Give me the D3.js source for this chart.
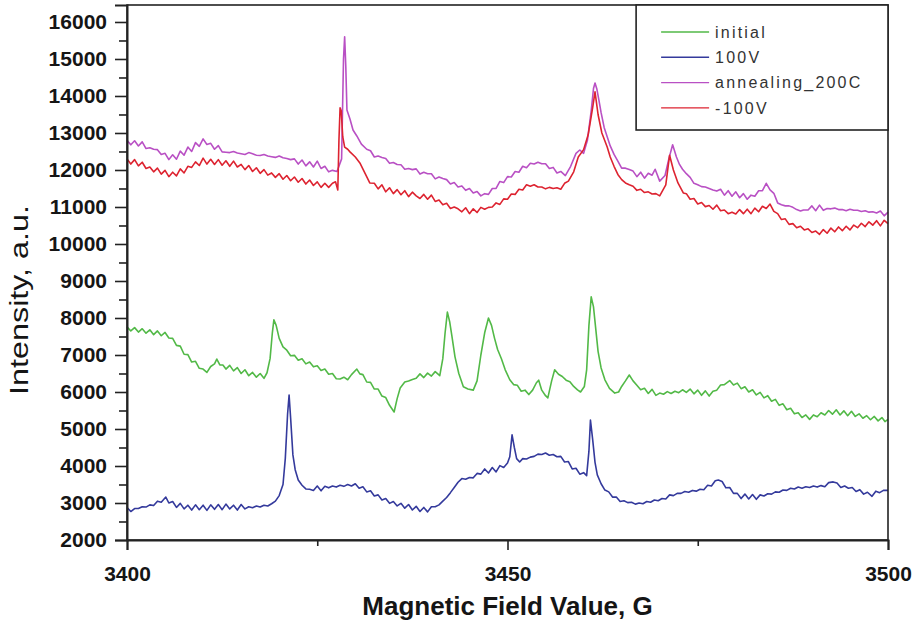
<!DOCTYPE html>
<html>
<head>
<meta charset="utf-8">
<script src="https://cdn.jsdelivr.net/npm/d3@7"></script>
<style>
  body { margin: 0; background: #fff; }
  svg text { font-family: "Liberation Sans", Arial, sans-serif; }
</style>
</head>
<body>
<svg id="chart" width="919" height="623"></svg>
<script>
// EPR spectra: intensity vs. magnetic field for four sample states
const seriesNames = ["initial", "100V", "annealing_200C", "-100V"];
const seriesColors = ["#52b947", "#343a9c", "#b950c4", "#dd2330"];
const xTicks = [3400, 3450, 3500];
const xMinorTicks = [3425, 3475];
const yTicks = [2000, 3000, 4000, 5000, 6000, 7000, 8000, 9000, 10000, 11000, 12000, 13000, 14000, 15000, 16000];
const yMinorTicks = [2500, 3500, 4500, 5500, 6500, 7500, 8500, 9500, 10500, 11500, 12500, 13500, 14500, 15500];
const xTitle = "Magnetic Field Value, G";
const yTitle = "Intensity, a.u.";

const initial = [[3400,7760],[3400.5,7650],[3401,7740],[3401.5,7620],[3402,7710],[3402.5,7590],[3403,7680],[3403.5,7550],[3404,7650],[3404.5,7520],[3405,7610],[3405.5,7460],[3406,7450],[3406.5,7260],[3407,7240],[3407.5,7020],[3408,7010],[3408.5,6810],[3409,6830],[3409.5,6640],[3410,6620],[3410.5,6530],[3411,6690],[3411.5,6760],[3411.8,6890],[3412.2,6730],[3412.6,6730],[3413,6620],[3413.5,6720],[3414,6570],[3414.5,6660],[3415,6500],[3415.5,6600],[3416,6440],[3416.5,6530],[3417,6400],[3417.5,6500],[3418,6370],[3418.4,6520],[3418.8,6900],[3419.1,7600],[3419.3,7950],[3419.6,7800],[3420,7450],[3420.5,7220],[3421,7130],[3421.5,6980],[3422,6990],[3422.5,6860],[3423,6900],[3423.5,6760],[3424,6810],[3424.5,6680],[3425,6710],[3425.5,6580],[3426,6620],[3426.5,6480],[3427,6500],[3427.5,6360],[3428,6350],[3428.5,6400],[3429,6330],[3429.5,6470],[3430.2,6620],[3430.6,6490],[3431,6470],[3431.5,6270],[3432,6260],[3432.5,6080],[3433,6080],[3433.5,5890],[3434,5850],[3434.5,5640],[3435.1,5460],[3435.5,5820],[3435.9,6110],[3436.5,6270],[3437,6300],[3437.5,6340],[3438,6370],[3438.5,6490],[3439,6390],[3439.5,6510],[3440,6430],[3440.5,6550],[3441.1,6440],[3441.5,6900],[3441.8,7600],[3442.1,8160],[3442.4,7900],[3442.7,7500],[3443.1,6950],[3443.6,6500],[3444.2,6140],[3444.8,6080],[3445.5,6050],[3446,6300],[3446.5,7000],[3447,7600],[3447.5,8000],[3447.9,7800],[3448.3,7450],[3448.7,7150],[3449.2,6900],[3449.7,6600],[3450.3,6330],[3450.8,6200],[3451.3,6180],[3451.8,6020],[3452.3,6050],[3452.8,5930],[3453.3,6050],[3453.8,6250],[3454.1,6320],[3454.5,6050],[3455,5900],[3455.3,5840],[3455.8,6300],[3456.2,6600],[3456.7,6480],[3457.2,6420],[3457.7,6320],[3458.2,6280],[3458.7,6150],[3459.2,6060],[3459.6,6000],[3460.1,6150],[3460.4,6600],[3460.7,7800],[3461,8570],[3461.3,8300],[3461.6,7700],[3461.9,7100],[3462.3,6650],[3462.8,6330],[3463.4,6100],[3464.1,5970],[3464.6,6000],[3465,6150],[3465.5,6300],[3466,6460],[3466.5,6300],[3467,6180],[3467.5,6060],[3468,6100],[3468.5,5960],[3469,6070],[3469.5,5910],[3470,5970],[3470.5,5940],[3471,6010],[3471.5,5960],[3472,6020],[3472.5,5980],[3473,6060],[3473.5,5990],[3474,6080],[3474.5,5950],[3475,6050],[3475.5,5910],[3476,6030],[3476.5,5890],[3477,6020],[3477.5,6050],[3478,6190],[3478.5,6200],[3479.2,6310],[3479.7,6190],[3480.2,6240],[3480.7,6090],[3481.2,6140],[3481.7,6000],[3482.2,6060],[3482.7,5920],[3483.2,5990],[3483.7,5840],[3484.2,5900],[3484.7,5750],[3485.2,5800],[3485.7,5640],[3486.2,5680],[3486.7,5520],[3487.2,5560],[3487.7,5410],[3488.2,5440],[3488.7,5310],[3489.2,5380],[3489.7,5260],[3490.2,5380],[3490.7,5330],[3491.2,5440],[3491.7,5380],[3492.2,5500],[3492.7,5400],[3493.2,5520],[3493.7,5380],[3494.2,5490],[3494.7,5360],[3495.2,5480],[3495.7,5340],[3496.2,5410],[3496.7,5290],[3497.2,5360],[3497.7,5250],[3498.2,5340],[3498.7,5220],[3499.2,5310],[3499.6,5200],[3500,5260]];

const v100 = [[3400,2880],[3400.5,2770],[3401,2850],[3401.5,2850],[3402,2900],[3402.5,2890],[3403,2950],[3403.5,2930],[3404,3050],[3404.5,3020],[3405.1,3160],[3405.5,3000],[3406,3040],[3406.5,2880],[3407,2990],[3407.5,2840],[3408,2940],[3408.5,2810],[3409,2950],[3409.5,2820],[3410,2940],[3410.5,2800],[3411,2950],[3411.5,2830],[3412,2960],[3412.5,2820],[3413,2970],[3413.5,2840],[3414,2940],[3414.5,2810],[3415,2960],[3415.5,2840],[3416,2900],[3416.5,2870],[3417,2920],[3417.5,2890],[3418,2940],[3418.5,2920],[3419,2980],[3419.5,3050],[3420,3200],[3420.5,3500],[3420.8,4200],[3421.1,5400],[3421.3,5920],[3421.5,5300],[3421.8,4300],[3422.1,3900],[3422.5,3620],[3423,3480],[3423.5,3380],[3424,3370],[3424.5,3340],[3425,3460],[3425.5,3330],[3426,3450],[3426.5,3410],[3427,3460],[3427.5,3430],[3428,3480],[3428.5,3450],[3429,3500],[3429.5,3460],[3430,3520],[3430.5,3400],[3431,3440],[3431.5,3300],[3432,3330],[3432.5,3190],[3433,3220],[3433.5,3080],[3434,3120],[3434.5,2990],[3435,3040],[3435.5,2920],[3436,2990],[3436.5,2860],[3437,2960],[3437.5,2810],[3438,2910],[3438.5,2770],[3439,2880],[3439.5,2760],[3440,2900],[3440.5,2900],[3441,2950],[3441.5,3050],[3442,3150],[3442.5,3280],[3443,3420],[3443.5,3560],[3444,3660],[3444.5,3640],[3445,3690],[3445.5,3680],[3446,3800],[3446.5,3780],[3447,3920],[3447.5,3810],[3448,3960],[3448.5,3840],[3449,4010],[3449.5,3960],[3450,4080],[3450.3,4250],[3450.6,4840],[3450.9,4500],[3451.2,4200],[3451.6,4110],[3452,4200],[3452.5,4190],[3453,4240],[3453.5,4260],[3454,4320],[3454.5,4310],[3455,4350],[3455.5,4290],[3456,4310],[3456.5,4250],[3457,4260],[3457.5,4110],[3458,4120],[3458.5,3920],[3459,3940],[3459.5,3780],[3460,3820],[3460.4,3740],[3460.7,4400],[3460.9,5240],[3461.2,4700],[3461.5,4100],[3461.8,3760],[3462.3,3520],[3462.8,3350],[3463.3,3300],[3463.8,3160],[3464.3,3160],[3464.8,3040],[3465.3,3060],[3465.8,3010],[3466.3,3020],[3466.8,2970],[3467.3,3000],[3467.8,2980],[3468.3,3040],[3468.8,3020],[3469.3,3080],[3469.8,3060],[3470.3,3120],[3470.8,3110],[3471.3,3220],[3471.8,3200],[3472.3,3260],[3472.8,3260],[3473.3,3310],[3473.8,3290],[3474.3,3340],[3474.8,3320],[3475.3,3370],[3475.8,3360],[3476.3,3480],[3476.8,3460],[3477.3,3600],[3477.7,3620],[3478.2,3580],[3478.7,3410],[3479.2,3420],[3479.7,3260],[3480.2,3260],[3480.7,3120],[3481.2,3240],[3481.7,3110],[3482.2,3230],[3482.7,3100],[3483.2,3220],[3483.7,3190],[3484.2,3250],[3484.7,3240],[3485.2,3300],[3485.7,3290],[3486.2,3350],[3486.7,3340],[3487.2,3400],[3487.7,3380],[3488.2,3430],[3488.7,3400],[3489.2,3440],[3489.7,3420],[3490.2,3460],[3490.7,3430],[3491.2,3470],[3491.7,3440],[3492.2,3550],[3492.8,3570],[3493.3,3540],[3493.8,3420],[3494.3,3460],[3494.8,3400],[3495.3,3420],[3495.8,3310],[3496.3,3360],[3496.8,3240],[3497.3,3290],[3497.9,3180],[3498.4,3320],[3498.9,3280],[3499.4,3340],[3500,3340]];

const annealing200C = [[3400,12800],[3400.5,12680],[3401,12790],[3401.5,12650],[3402,12760],[3402.5,12580],[3403,12600],[3403.5,12560],[3404,12550],[3404.5,12420],[3405,12450],[3405.5,12280],[3406,12410],[3406.5,12290],[3407,12510],[3407.5,12400],[3408,12620],[3408.5,12500],[3409,12740],[3409.5,12640],[3410,12840],[3410.5,12690],[3411,12720],[3411.5,12560],[3412,12660],[3412.5,12490],[3413,12480],[3413.5,12470],[3414,12500],[3414.5,12460],[3415,12440],[3415.5,12420],[3416,12470],[3416.5,12440],[3417,12400],[3417.5,12390],[3418,12420],[3418.5,12380],[3419,12360],[3419.5,12340],[3420,12380],[3420.5,12330],[3421,12310],[3421.5,12280],[3422,12300],[3422.5,12160],[3423,12270],[3423.5,12110],[3424,12220],[3424.5,12080],[3425,12240],[3425.5,12040],[3426,12100],[3426.5,11950],[3427,11990],[3427.6,11960],[3428.2,12300],[3428.45,15000],[3428.6,15600],[3428.75,14800],[3428.9,13620],[3429.3,13380],[3429.7,13080],[3430.2,12920],[3430.8,12700],[3431.5,12560],[3432,12520],[3432.5,12350],[3433,12380],[3433.5,12340],[3434,12310],[3434.5,12180],[3435,12200],[3435.5,12150],[3436,12140],[3436.5,12020],[3437,12040],[3437.5,12010],[3438,12030],[3438.5,11890],[3439,11940],[3439.5,11900],[3440,11900],[3440.5,11760],[3441,11810],[3441.5,11770],[3442,11740],[3442.5,11620],[3443,11660],[3443.5,11540],[3444,11570],[3444.5,11450],[3445,11500],[3445.5,11380],[3446,11420],[3446.5,11300],[3447,11360],[3447.5,11340],[3448,11500],[3448.5,11500],[3449,11690],[3449.5,11660],[3450,11820],[3450.5,11810],[3451,11960],[3451.5,11940],[3452,12100],[3452.5,12060],[3453,12180],[3453.5,12160],[3454,12210],[3454.5,12170],[3455,12170],[3455.5,12040],[3456,12070],[3456.5,11920],[3457,11960],[3457.6,11850],[3458.3,12100],[3459,12450],[3459.5,12540],[3460,12450],[3460.5,12800],[3461,13600],[3461.3,14200],[3461.5,14350],[3461.75,14180],[3462,13900],[3462.3,13550],[3462.7,13150],[3463.1,12900],[3463.5,12650],[3464,12420],[3464.5,12240],[3465,12050],[3465.5,12050],[3466,12010],[3466.5,11970],[3467,11820],[3467.5,11940],[3468,11780],[3468.5,11910],[3469,11860],[3469.4,12020],[3470,11700],[3470.7,11850],[3471.2,12300],[3471.7,12680],[3472.2,12350],[3472.6,12150],[3473,12020],[3473.5,11900],[3474,11800],[3474.5,11640],[3475,11600],[3475.5,11550],[3476,11540],[3476.5,11500],[3477,11460],[3477.5,11430],[3478,11480],[3478.5,11320],[3479,11440],[3479.5,11290],[3480,11410],[3480.5,11250],[3481,11360],[3481.5,11210],[3482,11320],[3482.5,11290],[3483,11440],[3483.5,11440],[3484,11640],[3484.5,11460],[3485,11370],[3485.5,11110],[3486,11060],[3486.5,11030],[3487,11030],[3487.5,10990],[3488,10930],[3488.5,10890],[3488.9,10920],[3489.5,10920],[3490,11030],[3490.5,10900],[3491,11050],[3491.5,10910],[3492,10960],[3492.5,10950],[3493,10970],[3493.5,10930],[3494,10930],[3494.5,10900],[3495,10940],[3495.5,10910],[3496,10910],[3496.5,10880],[3497,10900],[3497.5,10860],[3498,10870],[3498.5,10840],[3499,10890],[3499.5,10760],[3500,10860]];

const vMinus100 = [[3400,12300],[3400.5,12160],[3401,12280],[3401.5,12110],[3402,12210],[3402.5,12040],[3403,12080],[3403.5,11950],[3404,12050],[3404.5,11890],[3405,11990],[3405.5,11820],[3406,11940],[3406.5,11840],[3407,12030],[3407.5,11920],[3408,12100],[3408.5,12070],[3409,12220],[3409.5,12120],[3410,12320],[3410.5,12160],[3411,12290],[3411.5,12150],[3412,12280],[3412.5,12130],[3413,12250],[3413.5,12100],[3414,12240],[3414.5,12080],[3415,12150],[3415.5,12010],[3416,12120],[3416.5,11960],[3417,12060],[3417.5,11910],[3418,12010],[3418.5,11860],[3419,11920],[3419.5,11800],[3420,11900],[3420.5,11750],[3421,11850],[3421.5,11710],[3422,11810],[3422.5,11670],[3423,11770],[3423.5,11620],[3424,11730],[3424.5,11580],[3425,11680],[3425.5,11530],[3426,11640],[3426.5,11530],[3427,11640],[3427.4,11680],[3427.7,11460],[3427.85,12800],[3428,13680],[3428.15,13600],[3428.35,12900],[3428.6,12620],[3429,12560],[3429.3,12490],[3430,12350],[3430.6,12190],[3431.3,11900],[3431.9,11650],[3432.5,11640],[3433,11490],[3433.5,11600],[3434,11410],[3434.5,11520],[3435,11360],[3435.5,11470],[3436,11330],[3436.5,11440],[3437,11280],[3437.5,11400],[3438,11300],[3438.5,11230],[3439,11340],[3439.5,11210],[3440,11320],[3440.5,11150],[3441,11190],[3441.5,11060],[3442,11100],[3442.5,10960],[3443,11000],[3443.5,10950],[3444,10870],[3444.5,10980],[3445,10820],[3445.5,10950],[3446,10850],[3446.5,10990],[3447,10940],[3447.5,10990],[3448,11000],[3448.5,11110],[3449,11070],[3449.5,11220],[3450,11210],[3450.5,11350],[3451,11340],[3451.5,11480],[3452,11460],[3452.5,11600],[3453,11560],[3453.5,11600],[3454,11540],[3454.5,11540],[3455,11490],[3455.5,11530],[3456,11500],[3456.5,11520],[3457,11480],[3457.5,11640],[3458,11700],[3458.7,11950],[3459.3,12350],[3460,12550],[3460.6,12950],[3461.2,13700],[3461.5,14110],[3461.9,13500],[3462.4,13000],[3463.1,12620],[3463.5,12350],[3464,12100],[3464.5,11880],[3465,11740],[3465.5,11650],[3466,11600],[3466.5,11560],[3467,11450],[3467.5,11480],[3468,11390],[3468.5,11410],[3469,11350],[3469.5,11360],[3470,11300],[3470.8,11600],[3471.3,12400],[3471.8,12000],[3472.4,11650],[3473.1,11380],[3473.5,11360],[3474,11210],[3474.5,11230],[3475,11080],[3475.5,11120],[3476,11010],[3476.5,11040],[3477,10940],[3477.5,11050],[3478,10900],[3478.5,10920],[3479,10820],[3479.5,10860],[3480,10810],[3480.5,10930],[3481,10820],[3481.5,10940],[3482,10820],[3482.5,10970],[3483,10870],[3483.5,11020],[3484,10960],[3484.5,11080],[3485,10880],[3485.5,10820],[3486,10660],[3486.5,10680],[3487,10530],[3487.5,10550],[3488,10440],[3488.5,10480],[3489,10380],[3489.5,10410],[3490,10310],[3490.5,10350],[3491,10260],[3491.5,10390],[3492,10290],[3492.5,10430],[3493,10330],[3493.5,10460],[3494,10360],[3494.5,10480],[3495,10380],[3495.5,10510],[3496,10440],[3496.5,10560],[3497,10470],[3497.5,10600],[3498,10510],[3498.5,10630],[3499,10490],[3499.5,10640],[3500,10550]];

const seriesData = [initial, v100, annealing200C, vMinus100];

const svg = d3.select("#chart");
const margin = { top: 5, right: 31, bottom: 83, left: 127 };
const W = 919, H = 623;
const innerW = W - margin.left - margin.right;
const innerH = H - margin.top - margin.bottom;

const x = d3.scaleLinear().domain([3400, 3500]).range([0, innerW]);
const y = d3.scaleLinear().domain([2000, 16459]).range([innerH, 0]);

const g = svg.append("g").attr("transform", `translate(${margin.left},${margin.top})`);

// spectra
const line = d3.line().x(d => x(d[0])).y(d => y(d[1]));
g.append("g").attr("class", "series")
  .selectAll("path")
  .data(seriesData)
  .join("path")
  .attr("d", line)
  .attr("fill", "none")
  .attr("stroke", (d, i) => seriesColors[i])
  .attr("stroke-width", 1.6)
  .attr("stroke-linejoin", "round");

// frame
g.append("rect")
  .attr("x", 0).attr("y", 0)
  .attr("width", innerW).attr("height", innerH)
  .attr("fill", "none").attr("stroke", "#222").attr("stroke-width", 1.6);

// axes
const tickFont = sel => sel.selectAll("text")
  .attr("font-family", "'Liberation Sans', Arial, sans-serif")
  .attr("font-weight", "bold")
  .attr("font-size", 21)
  .attr("fill", "#151515");

const yAxis = g.append("g")
  .call(d3.axisLeft(y).tickValues(yTicks).tickFormat(d3.format("d")).tickSize(12).tickPadding(8));
yAxis.call(tickFont);
g.append("g")
  .call(d3.axisLeft(y).tickValues(yMinorTicks).tickFormat("").tickSize(8))
  .select(".domain").remove();

const xAxis = g.append("g").attr("transform", `translate(0,${innerH})`)
  .call(d3.axisBottom(x).tickValues(xTicks).tickFormat(d3.format("d")).tickSize(10).tickPadding(16));
xAxis.call(tickFont);
g.append("g").attr("transform", `translate(0,${innerH})`)
  .call(d3.axisBottom(x).tickValues(xMinorTicks).tickFormat("").tickSize(6))
  .select(".domain").remove();

g.selectAll(".domain").attr("stroke", "#222").attr("stroke-width", 2);
g.selectAll(".tick line").attr("stroke", "#222").attr("stroke-width", 1.6);

// axis titles
svg.append("text")
  .attr("x", margin.left + innerW / 2)
  .attr("y", 615)
  .attr("text-anchor", "middle")
  .attr("font-family", "'Liberation Sans Narrow', 'Liberation Sans', Arial, sans-serif")
  .attr("font-weight", "bold")
  .attr("font-size", 26)
  .attr("fill", "#151515")
  .text(xTitle);

svg.append("text")
  .attr("transform", "translate(28,300) rotate(-90)")
  .attr("text-anchor", "middle")
  .attr("font-family", "'Liberation Sans Narrow', 'Liberation Sans', Arial, sans-serif")
  .attr("font-size", 25)
  .attr("textLength", 190)
  .attr("lengthAdjust", "spacingAndGlyphs")
  .attr("fill", "#151515")
  .text(yTitle);

// legend
const legend = g.append("g").attr("transform", `translate(${x(3466.9)},0)`);
const legW = innerW - x(3466.9);
legend.append("rect")
  .attr("x", 0).attr("y", 0).attr("width", legW).attr("height", 125)
  .attr("fill", "#fff").attr("stroke", "#222").attr("stroke-width", 1.6);
const rows = legend.selectAll("g.row")
  .data(seriesNames)
  .join("g").attr("class", "row")
  .attr("transform", (d, i) => `translate(0,${27 + i * 25.3})`);
rows.append("line")
  .attr("x1", 25).attr("x2", 73)
  .attr("stroke", (d, i) => seriesColors[i]).attr("stroke-width", 1.4);
rows.append("text")
  .attr("x", 79).attr("dy", "0.35em")
  .attr("font-size", 16)
  .attr("letter-spacing", 2.2)
  .attr("fill", "#333")
  .text(d => d);
</script>
</body>
</html>
